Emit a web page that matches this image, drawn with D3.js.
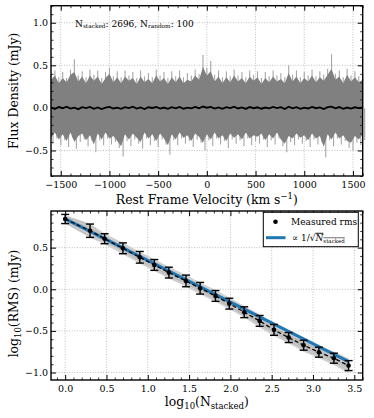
<!DOCTYPE html>
<html>
<head>
<meta charset="utf-8">
<script src="https://cdn.jsdelivr.net/npm/d3@7"></script>
<style>
  body { margin: 0; background: #fff; }
  svg { display: block; font-family: "DejaVu Serif", serif; }
</style>
</head>
<body>
<div id="chart"></div>
<script>
// top panel: 100 random stacks of 2696 spectra, one value per 40 km/s channel
const velocityRange = [-1600, 1600];
const channelWidth = 40;
const spikeHigh = [
  0.40, 0.44, 0.36, 0.42, 0.35, 0.45, 0.57, 0.38, 0.43,
  0.36, 0.45, 0.39, 0.44, 0.35, 0.42, 0.47, 0.37, 0.43,
  0.36, 0.44, 0.38, 0.42, 0.35, 0.44, 0.37, 0.41, 0.36,
  0.45, 0.38, 0.42, 0.35, 0.43, 0.37, 0.44, 0.36, 0.41,
  0.38, 0.45, 0.40, 0.62, 0.47, 0.55, 0.39, 0.44, 0.36,
  0.43, 0.37, 0.45, 0.38, 0.42, 0.36, 0.44, 0.39, 0.43,
  0.35, 0.42, 0.37, 0.44, 0.38, 0.41, 0.36, 0.50, 0.39,
  0.44, 0.36, 0.42, 0.38, 0.45, 0.37, 0.43, 0.39, 0.46,
  0.63, 0.40, 0.44, 0.36, 0.46, 0.38, 0.43, 0.37, 0.40
];
const spikeLow = [
  -0.42, -0.36, -0.44, -0.38, -0.46, -0.35, -0.48, -0.40, -0.37,
  -0.45, -0.39, -0.52, -0.38, -0.44, -0.36, -0.43, -0.40, -0.47,
  -0.57, -0.39, -0.45, -0.37, -0.42, -0.48, -0.36, -0.44, -0.39,
  -0.46, -0.37, -0.43, -0.55, -0.38, -0.44, -0.36, -0.42, -0.39,
  -0.46, -0.37, -0.41, -0.50, -0.38, -0.45, -0.36, -0.43, -0.39,
  -0.47, -0.37, -0.42, -0.38, -0.45, -0.36, -0.44, -0.39, -0.42,
  -0.37, -0.46, -0.38, -0.43, -0.36, -0.45, -0.52, -0.40, -0.44,
  -0.37, -0.42, -0.39, -0.46, -0.37, -0.43, -0.40, -0.58, -0.38,
  -0.45, -0.36, -0.43, -0.39, -0.47, -0.50, -0.41, -0.44, -0.38
];
const coreHigh = [
  0.33, 0.38, 0.29, 0.35, 0.30, 0.39, 0.42, 0.31, 0.37,
  0.29, 0.38, 0.32, 0.37, 0.28, 0.35, 0.40, 0.30, 0.36,
  0.29, 0.37, 0.32, 0.35, 0.28, 0.37, 0.30, 0.34, 0.29,
  0.38, 0.31, 0.35, 0.28, 0.36, 0.30, 0.37, 0.29, 0.33,
  0.31, 0.38, 0.33, 0.48, 0.38, 0.43, 0.31, 0.37, 0.29,
  0.36, 0.30, 0.38, 0.31, 0.35, 0.29, 0.37, 0.32, 0.36,
  0.28, 0.35, 0.30, 0.37, 0.31, 0.34, 0.29, 0.41, 0.31,
  0.37, 0.29, 0.35, 0.31, 0.38, 0.30, 0.36, 0.32, 0.39,
  0.46, 0.33, 0.37, 0.29, 0.39, 0.31, 0.36, 0.30, 0.33
];
const coreLow = [
  -0.35, -0.29, -0.37, -0.31, -0.39, -0.29, -0.40, -0.33, -0.30,
  -0.38, -0.32, -0.43, -0.30, -0.37, -0.29, -0.36, -0.33, -0.39,
  -0.45, -0.31, -0.37, -0.30, -0.35, -0.40, -0.29, -0.36, -0.31,
  -0.39, -0.30, -0.36, -0.44, -0.31, -0.37, -0.29, -0.35, -0.32,
  -0.39, -0.30, -0.34, -0.41, -0.31, -0.37, -0.29, -0.36, -0.32,
  -0.39, -0.30, -0.35, -0.31, -0.37, -0.29, -0.36, -0.32, -0.34,
  -0.30, -0.38, -0.31, -0.36, -0.29, -0.37, -0.42, -0.33, -0.36,
  -0.30, -0.35, -0.32, -0.38, -0.30, -0.36, -0.33, -0.46, -0.31,
  -0.37, -0.29, -0.36, -0.32, -0.39, -0.41, -0.33, -0.37, -0.31
];
const stackedMean = [
  0.005, -0.012, 0.010, -0.004, 0.014, -0.008, 0.003, -0.015, 0.008,
  -0.002, 0.012, -0.010, 0.006, -0.013, 0.004, 0.011, -0.007, 0.002,
  -0.011, 0.009, -0.003, 0.013, -0.008, 0.005, -0.014, 0.007, -0.001,
  0.010, -0.009, 0.004, -0.012, 0.008, -0.005, 0.012, -0.010, 0.003,
  -0.006, 0.011, -0.004, 0.016, 0.002, 0.012, -0.009, 0.006, -0.011,
  0.009, -0.003, 0.013, -0.007, 0.005, -0.012, 0.010, -0.004, 0.007,
  -0.010, 0.004, -0.006, 0.012, -0.002, 0.009, -0.013, 0.014, -0.005,
  0.008, -0.011, 0.003, -0.007, 0.011, -0.004, 0.006, -0.014, 0.009,
  0.015, -0.006, 0.010, -0.012, 0.004, -0.009, 0.007, -0.003, 0.005
];
const velocityTicks = [-1500, -1000, -500, 0, 500, 1000, 1500];
const fluxTicks = [-0.5, 0.0, 0.5, 1.0];

// bottom panel: rms against number of stacked spectra
const nStacked = [1, 2, 3, 5, 8, 12, 18, 29, 43, 66, 97, 147, 226, 337, 507, 770, 1178, 1790, 2696];
const rmsMeasured = [0.844, 0.703, 0.607, 0.492, 0.384, 0.292, 0.200, 0.100, 0.012, -0.080,
  -0.173, -0.276, -0.380, -0.488, -0.580, -0.672, -0.756, -0.828, -0.917];
const rmsError = [0.055, 0.08, 0.06, 0.065, 0.07, 0.065, 0.065, 0.07, 0.07, 0.065,
  0.065, 0.065, 0.065, 0.065, 0.06, 0.06, 0.06, 0.06, 0.06];
const rmsSpreadHigh = [0.89, 0.79, 0.67, 0.56, 0.45, 0.36, 0.27, 0.17, 0.08, -0.01,
  -0.10, -0.20, -0.30, -0.42, -0.51, -0.60, -0.68, -0.75, -0.83];
const rmsSpreadLow = [0.79, 0.62, 0.54, 0.42, 0.31, 0.22, 0.13, 0.03, -0.06, -0.15,
  -0.24, -0.34, -0.46, -0.56, -0.65, -0.75, -0.83, -0.91, -1.01];
const rmsRandomA = [0.86, 0.72, 0.63, 0.50, 0.40, 0.30, 0.22, 0.12, 0.03, -0.06, -0.15, -0.26, -0.36, -0.47, -0.56, -0.65, -0.73, -0.80, -0.89];
const rmsRandomB = [0.82, 0.68, 0.58, 0.47, 0.36, 0.27, 0.17, 0.08, -0.01, -0.10, -0.20, -0.30, -0.40, -0.51, -0.60, -0.70, -0.78, -0.85, -0.95];
const rmsRandomC = [0.87, 0.77, 0.62, 0.52, 0.41, 0.33, 0.23, 0.13, 0.04, -0.05, -0.14, -0.25, -0.35, -0.46, -0.55, -0.64, -0.72, -0.79, -0.86];
const rmsRandomD = [0.80, 0.64, 0.59, 0.46, 0.34, 0.25, 0.16, 0.07, -0.03, -0.12, -0.21, -0.31, -0.42, -0.52, -0.62, -0.72, -0.80, -0.87, -0.98];
const rmsRandomE = [0.85, 0.74, 0.60, 0.49, 0.39, 0.29, 0.21, 0.09, 0.02, -0.08, -0.18, -0.27, -0.38, -0.49, -0.58, -0.67, -0.76, -0.84, -0.92];
const rmsRandomF = [0.83, 0.70, 0.65, 0.48, 0.37, 0.31, 0.18, 0.11, 0.00, -0.09, -0.16, -0.28, -0.39, -0.48, -0.59, -0.69, -0.75, -0.82, -0.94];
const fitEnds = [0.845, -0.870]; // 1/sqrt(N) line at N = 1 and N = 2696
const logNTicks = [0.0, 0.5, 1.0, 1.5, 2.0, 2.5, 3.0, 3.5];
const logRmsTicks = [-1.0, -0.5, 0.0, 0.5];

const width = 374, height = 418;
const topBox = { left: 51, right: 362.7, top: 5.7, bottom: 176 };
const botBox = { left: 51, right: 362.7, top: 211, bottom: 380 };

const svg = d3.select("#chart").append("svg")
  .attr("width", width)
  .attr("height", height);

function minorTicks(domain, step, major) {
  const start = Math.ceil(domain[0] / step - 1e-9);
  const stop = Math.floor(domain[1] / step + 1e-9);
  return d3.range(start, stop + 1).map((k) => +(k * step).toFixed(6))
    .filter((v) => !major.some((m) => Math.abs(m - v) < 1e-9));
}

function addGrid(box, x, y, xTicks, yTicks) {
  const grid = svg.append("g")
    .attr("stroke", "#b0b0b0")
    .attr("stroke-width", 0.8)
    .attr("stroke-dasharray", "1,1.6");
  grid.selectAll(".gx").data(xTicks).join("line")
    .attr("x1", (d) => x(d)).attr("x2", (d) => x(d))
    .attr("y1", box.top).attr("y2", box.bottom);
  grid.selectAll(".gy").data(yTicks).join("line")
    .attr("x1", box.left).attr("x2", box.right)
    .attr("y1", (d) => y(d)).attr("y2", (d) => y(d));
}

function addAxes(box, x, y, xTicks, yTicks, xMinor, yMinor, xFmt, yFmt) {
  const g = svg.append("g");
  const put = (axis, tr, major) => {
    const a = g.append("g").attr("transform", tr).call(axis);
    a.select(".domain").remove();
    a.attr("font-family", "DejaVu Serif").attr("font-size", 9.5);
    a.selectAll("line").attr("stroke", "#000").attr("stroke-width", major ? 1 : 0.8);
    a.selectAll("text").attr("fill", "#000");
  };
  put(d3.axisBottom(x).tickValues(xTicks).tickSize(-5).tickPadding(5).tickFormat(xFmt), `translate(0,${box.bottom})`, true);
  put(d3.axisBottom(x).tickValues(xMinor).tickSize(-2.5).tickFormat(""), `translate(0,${box.bottom})`, false);
  put(d3.axisTop(x).tickValues(xTicks).tickSize(-5).tickFormat(""), `translate(0,${box.top})`, true);
  put(d3.axisTop(x).tickValues(xMinor).tickSize(-2.5).tickFormat(""), `translate(0,${box.top})`, false);
  put(d3.axisLeft(y).tickValues(yTicks).tickSize(-5).tickPadding(3).tickFormat(yFmt), `translate(${box.left},0)`, true);
  put(d3.axisLeft(y).tickValues(yMinor).tickSize(-2.5).tickFormat(""), `translate(${box.left},0)`, false);
  put(d3.axisRight(y).tickValues(yTicks).tickSize(-5).tickFormat(""), `translate(${box.right},0)`, true);
  put(d3.axisRight(y).tickValues(yMinor).tickSize(-2.5).tickFormat(""), `translate(${box.right},0)`, false);
  g.append("rect")
    .attr("x", box.left).attr("y", box.top)
    .attr("width", box.right - box.left).attr("height", box.bottom - box.top)
    .attr("fill", "none").attr("stroke", "#000").attr("stroke-width", 1.4);
}

// ---------- top panel ----------
const xV = d3.scaleLinear().domain(velocityRange).range([topBox.left, topBox.right]);
const yF = d3.scaleLinear().domain([-0.8, 1.2]).range([topBox.bottom, topBox.top]);
const channel = (i) => velocityRange[0] + i * channelWidth;

addGrid(topBox, xV, yF, velocityTicks, fluxTicks);

// single-realisation spikes poking out of the dense core
const spikes = svg.append("g").attr("stroke", "#a6a6a6").attr("stroke-width", 1.1);
spikes.selectAll(".up").data(spikeHigh).join("line")
  .attr("x1", (_, i) => xV(channel(i))).attr("x2", (_, i) => xV(channel(i)))
  .attr("y1", yF(0)).attr("y2", (d) => yF(d));
spikes.selectAll(".down").data(spikeLow).join("line")
  .attr("x1", (_, i) => xV(channel(i)) + 2).attr("x2", (_, i) => xV(channel(i)) + 2)
  .attr("y1", yF(0)).attr("y2", (d) => yF(d));

svg.append("path").datum(coreHigh)
  .attr("d", d3.area()
    .x((_, i) => xV(channel(i)))
    .y0((_, i) => yF(coreLow[i]))
    .y1((d) => yF(d)))
  .attr("fill", "#808080");
svg.append("path").datum(stackedMean)
  .attr("d", d3.line().x((_, i) => xV(channel(i))).y((d) => yF(d)))
  .attr("fill", "none").attr("stroke", "#000").attr("stroke-width", 1.8);

addAxes(topBox, xV, yF, velocityTicks, fluxTicks,
  minorTicks(velocityRange, 100, velocityTicks), minorTicks([-0.8, 1.2], 0.1, fluxTicks),
  d3.format("d"), d3.format(".1f"));

svg.append("text")
  .attr("x", 75).attr("y", 26.5)
  .attr("font-size", 9)
  .call((t) => {
    t.append("tspan").text("N");
    t.append("tspan").attr("font-size", 5.8).attr("dy", 1.8).text("stacked");
    t.append("tspan").attr("dy", -1.8).text(": 2696, N");
    t.append("tspan").attr("font-size", 5.8).attr("dy", 1.8).text("random");
    t.append("tspan").attr("dy", -1.8).text(": 100");
  });

svg.append("text")
  .attr("x", (topBox.left + topBox.right) / 2).attr("y", 203.5)
  .attr("text-anchor", "middle").attr("font-size", 12.4)
  .call((t) => {
    t.append("tspan").text("Rest Frame Velocity (km s");
    t.append("tspan").attr("font-size", 8.5).attr("dy", -4.5).text("\u22121");
    t.append("tspan").attr("dy", 4.5).text(")");
  });

svg.append("text")
  .attr("transform", `translate(18,${(topBox.top + topBox.bottom) / 2}) rotate(-90)`)
  .attr("text-anchor", "middle").attr("font-size", 12.4)
  .text("Flux Density (mJy)");

// ---------- bottom panel ----------
const xN = d3.scaleLinear().domain([-0.1715, 3.6015]).range([botBox.left, botBox.right]);
const yR = d3.scaleLinear().domain([-1.09, 0.94]).range([botBox.bottom, botBox.top]);
const logN = nStacked.map((n) => Math.log10(n));

addGrid(botBox, xN, yR, logNTicks, logRmsTicks);

svg.append("path").datum(rmsSpreadHigh)
  .attr("d", d3.area().x((_, i) => xN(logN[i])).y0((_, i) => yR(rmsSpreadLow[i])).y1((d) => yR(d)))
  .attr("fill", "#cfcfcf");

const rmsLine = d3.line().x((_, i) => xN(logN[i])).y((d) => yR(d));
svg.append("g")
  .selectAll("path")
  .data([rmsRandomA, rmsRandomB, rmsRandomC, rmsRandomD, rmsRandomE, rmsRandomF])
  .join("path")
  .attr("d", rmsLine)
  .attr("fill", "none").attr("stroke", "#b4b4b4").attr("stroke-width", 0.8);

svg.append("line")
  .attr("x1", xN(logN[0])).attr("y1", yR(fitEnds[0]))
  .attr("x2", xN(logN[logN.length - 1])).attr("y2", yR(fitEnds[1]))
  .attr("stroke", "#1f77b4").attr("stroke-width", 3);

svg.append("path").datum(rmsMeasured)
  .attr("d", rmsLine)
  .attr("fill", "none").attr("stroke", "#000").attr("stroke-width", 1.3)
  .attr("stroke-dasharray", "4,2.5");

const bars = svg.append("g").attr("stroke", "#000").attr("stroke-width", 1.4);
rmsMeasured.forEach((m, i) => {
  const cx = xN(logN[i]);
  const y0 = yR(m - rmsError[i]), y1 = yR(m + rmsError[i]);
  bars.append("line").attr("x1", cx).attr("x2", cx).attr("y1", y0).attr("y2", y1);
  bars.append("line").attr("x1", cx - 4).attr("x2", cx + 4).attr("y1", y0).attr("y2", y0);
  bars.append("line").attr("x1", cx - 4).attr("x2", cx + 4).attr("y1", y1).attr("y2", y1);
});

svg.append("g")
  .selectAll("circle")
  .data(rmsMeasured)
  .join("circle")
  .attr("cx", (_, i) => xN(logN[i]))
  .attr("cy", (d) => yR(d))
  .attr("r", 2.3)
  .attr("fill", "#000");

addAxes(botBox, xN, yR, logNTicks, logRmsTicks,
  minorTicks([-0.1715, 3.6015], 0.1, logNTicks), minorTicks([-1.09, 0.94], 0.1, logRmsTicks),
  d3.format(".1f"), d3.format(".1f"));

// legend
const legend = svg.append("g");
legend.append("rect")
  .attr("x", 263.3).attr("y", 212.3).attr("width", 95).attr("height", 34.4)
  .attr("fill", "#fff").attr("stroke", "#000").attr("stroke-width", 1);
legend.append("circle").attr("cx", 275.5).attr("cy", 221.7).attr("r", 2.3).attr("fill", "#000");
legend.append("text").attr("x", 291).attr("y", 224.8).attr("font-size", 9).text("Measured rms");
legend.append("line")
  .attr("x1", 266).attr("x2", 285.5).attr("y1", 237.7).attr("y2", 237.7)
  .attr("stroke", "#1f77b4").attr("stroke-width", 3);
legend.append("text").attr("x", 292).attr("y", 240.8).attr("font-size", 9)
  .call((t) => {
    t.append("tspan").text("\u221d 1/\u221a");
    t.append("tspan").attr("font-style", "italic").style("text-decoration", "overline").text("N");
    t.append("tspan").attr("font-size", 5.5).attr("dy", 1.8).style("text-decoration", "overline").text("stacked");
  });

svg.append("text")
  .attr("x", (botBox.left + botBox.right) / 2).attr("y", 406)
  .attr("text-anchor", "middle").attr("font-size", 12.4)
  .call((t) => {
    t.append("tspan").text("log");
    t.append("tspan").attr("font-size", 8.5).attr("dy", 2.8).text("10");
    t.append("tspan").attr("dy", -2.8).text("(N");
    t.append("tspan").attr("font-size", 8.5).attr("dy", 2.8).text("stacked");
    t.append("tspan").attr("dy", -2.8).text(")");
  });

svg.append("text")
  .attr("transform", `translate(18,${(botBox.top + botBox.bottom) / 2 + 8}) rotate(-90)`)
  .attr("text-anchor", "middle").attr("font-size", 12.4)
  .call((t) => {
    t.append("tspan").text("log");
    t.append("tspan").attr("font-size", 8.5).attr("dy", 2.8).text("10");
    t.append("tspan").attr("dy", -2.8).text("(RMS) (mJy)");
  });
</script>
</body>
</html>
